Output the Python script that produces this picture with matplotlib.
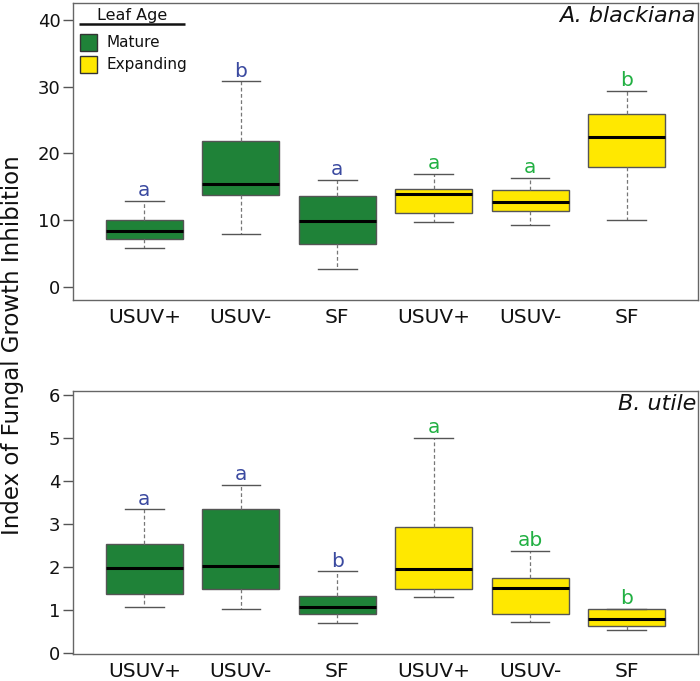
import matplotlib
matplotlib.use("Agg")
import matplotlib.pyplot as plt
from matplotlib.patches import Rectangle

plt.rcParams['font.family'] = ['DejaVu Sans']

labels = ["USUV+", "USUV-", "SF", "USUV+", "USUV-", "SF"]
leaf_age = ["Mature", "Mature", "Mature", "Expanding", "Expanding", "Expanding"]

# A. blackiana
ab_low = [5.75, 7.85, 2.6, 9.65, 9.2, 10.0]
ab_q1 = [7.15, 13.7, 6.4, 11.1, 11.4, 18.0]
ab_med = [8.35, 15.45, 9.85, 13.95, 12.75, 22.5]
ab_q3 = [10.0, 21.8, 13.65, 14.7, 14.45, 25.95]
ab_high = [12.8, 30.8, 15.95, 16.85, 16.35, 29.4]
ab_letters = ["a", "b", "a", "a", "a", "b"]

# B. utile
bu_low = [1.07, 1.02, 0.70, 1.30, 0.73, 0.55]
bu_q1 = [1.37, 1.50, 0.92, 1.48, 0.91, 0.62]
bu_med = [1.98, 2.03, 1.07, 1.95, 1.51, 0.79]
bu_q3 = [2.54, 3.36, 1.33, 2.94, 1.74, 1.02]
bu_high = [3.34, 3.90, 1.90, 5.00, 2.38, 1.03]
bu_letters = ["a", "a", "b", "a", "ab", "b"]

fill = {"Mature": "#1f8238", "Expanding": "#ffe800"}
letter_col = {"Mature": "#3b4aa0", "Expanding": "#22b043"}
edge = "#555555"


def panel(ax, low, q1, med, q3, high, letters, ylim, yticks, title):
    stats = []
    for i in range(len(labels)):
        stats.append(dict(whislo=low[i], q1=q1[i], med=med[i], q3=q3[i],
                          whishi=high[i], fliers=[]))
    pos = list(range(1, len(labels) + 1))
    bp = ax.bxp(stats, positions=pos, widths=0.8, patch_artist=True,
                showfliers=False,
                boxprops=dict(edgecolor=edge, linewidth=1.0),
                medianprops=dict(color="black", linewidth=2.2, solid_capstyle="butt"),
                whiskerprops=dict(color="#777777", linewidth=0.9, linestyle=(0, (3, 2))),
                capprops=dict(color=edge, linewidth=1.0),
                capwidths=0.4)
    for b, age in zip(bp["boxes"], leaf_age):
        b.set_facecolor(fill[age])
    for i in range(len(labels)):
        ax.annotate(letters[i], (pos[i], high[i]), xytext=(0, 3.5),
                    textcoords="offset points", ha="center", va="baseline",
                    fontsize=14.5, color=letter_col[leaf_age[i]])
    ax.set_xlim(0.26, 6.74)
    ax.set_ylim(*ylim)
    ax.set_yticks(yticks)
    ax.set_xticks(pos)
    ax.set_xticklabels(labels, fontsize=14.5, color="#111111")
    ax.tick_params(axis="x", length=0, pad=6)
    ax.tick_params(axis="y", length=7, width=1, color=edge, labelsize=13,
                   labelcolor="#111111", pad=2)
    for s in ax.spines.values():
        s.set_color("#666666")
        s.set_linewidth(1.0)
    ax.text(0.997, 0.988, title, transform=ax.transAxes, ha="right", va="top",
            fontsize=16, style="italic", color="#111111")


fig = plt.figure(figsize=(7, 6.81), dpi=100)
ax1 = fig.add_axes([0.1043, 0.5595, 0.8927, 0.4365])
ax2 = fig.add_axes([0.1043, 0.0396, 0.8927, 0.3867])

panel(ax1, ab_low, ab_q1, ab_med, ab_q3, ab_high, ab_letters,
      (-2.0, 42.6), [0, 10, 20, 30, 40], "A. blackiana")
panel(ax2, bu_low, bu_q1, bu_med, bu_q3, bu_high, bu_letters,
      (-0.02, 6.1), [0, 1, 2, 3, 4, 5, 6], "B. utile")

# legend (drawn by hand, R style)
W, H = 625.0, 297.3
ax1.text(58.7 / W, 1 - 13 / H, "Leaf Age", transform=ax1.transAxes,
         ha="center", va="center", fontsize=11.5, color="#111111")
ax1.plot([6 / W, 112 / W], [1 - 21.5 / H, 1 - 21.5 / H], transform=ax1.transAxes,
         color="#111111", linewidth=1.8, solid_capstyle="butt")
for k, age in enumerate(["Mature", "Expanding"]):
    yc = 1 - (39.5 + 22 * k) / H
    ax1.add_patch(Rectangle((6.5 / W, yc - 8.5 / H), 17 / W, 17 / H,
                            transform=ax1.transAxes, facecolor=fill[age],
                            edgecolor="#333333", linewidth=1.0))
    ax1.text(33.5 / W, yc, age, transform=ax1.transAxes, ha="left",
             va="center", fontsize=11, color="#111111")

fig.text(0.018, 0.493, "Index of Fungal Growth Inhibition", rotation=90,
         ha="center", va="center", fontsize=16.5, color="#111111")

fig.savefig("out.png", dpi=100)
